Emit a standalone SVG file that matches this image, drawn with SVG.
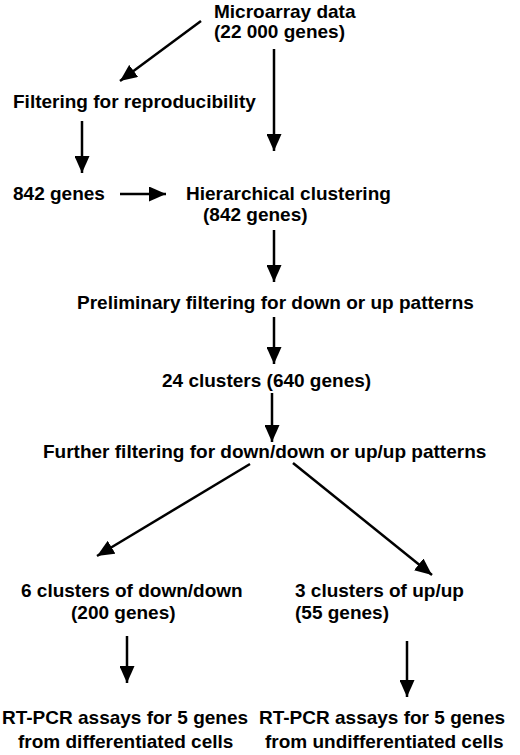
<svg xmlns="http://www.w3.org/2000/svg" width="520" height="755" viewBox="0 0 520 755">
<style>
text{font-family:"Liberation Sans",Arial,sans-serif;font-weight:bold;font-size:19px;fill:#000}
.c{stroke:#000;stroke-width:2.5;fill:none}
</style>
<defs>
<marker id="ah" viewBox="0 0 17 15" refX="17" refY="7.5" markerWidth="17" markerHeight="15" markerUnits="userSpaceOnUse" orient="auto">
<path d="M0,0 L17,7.5 L0,15 Z" fill="#000"/>
</marker>
</defs>
<rect width="520" height="755" fill="#fff"/>
<g id="n1"><text x="214" y="18">Microarray data</text><text x="214" y="38">(22 000 genes)</text></g>
<g id="n2"><text x="13" y="108">Filtering for reproducibility</text></g>
<g id="n3"><text x="13" y="200">842 genes</text></g>
<g id="n4"><text x="186" y="200">Hierarchical clustering</text><text x="203" y="221">(842 genes)</text></g>
<g id="n5"><text x="77" y="309">Preliminary filtering for down or up patterns</text></g>
<g id="n6"><text x="162" y="387">24 clusters (640 genes)</text></g>
<g id="n7"><text x="43" y="458">Further filtering for down/down or up/up patterns</text></g>
<g id="n8"><text x="21" y="597">6 clusters of down/down</text><text x="71" y="619">(200 genes)</text></g>
<g id="n9"><text x="295" y="597">3 clusters of up/up</text><text x="295" y="619">(55 genes)</text></g>
<g id="n10"><text x="2" y="724">RT-PCR assays for 5 genes</text><text x="18" y="748">from differentiated cells</text></g>
<g id="n11"><text x="259" y="724">RT-PCR assays for 5 genes</text><text x="265" y="748">from undifferentiated cells</text></g>
<g id="connectors" class="c" marker-end="url(#ah)">
<line x1="201" y1="21" x2="120" y2="81"/>
<line x1="274" y1="49" x2="274" y2="151"/>
<line x1="82" y1="121" x2="82" y2="173"/>
<line x1="120" y1="194" x2="166" y2="194"/>
<line x1="274" y1="230" x2="274" y2="282"/>
<line x1="274" y1="317" x2="274" y2="364"/>
<line x1="272" y1="393" x2="272" y2="442"/>
<line x1="250" y1="464" x2="97" y2="556"/>
<line x1="293" y1="463" x2="432" y2="575"/>
<line x1="127" y1="636" x2="127" y2="683"/>
<line x1="407" y1="641" x2="407" y2="697"/>
</g>
</svg>
